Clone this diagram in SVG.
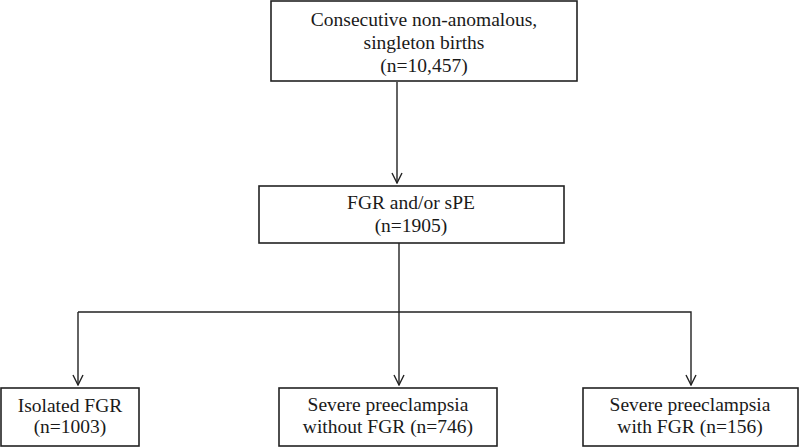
<svg xmlns="http://www.w3.org/2000/svg" width="800" height="447" viewBox="0 0 800 447">
<defs>
<style>
.box{fill:#fff;stroke:#222;stroke-width:1.6}
.t{font-family:'Liberation Serif','Times New Roman',Times,serif;font-size:19.5px;fill:#1a1a1a;text-anchor:middle}
.c{fill:none;stroke:#222;stroke-width:1.4}
</style>
<marker id="ah" viewBox="0 0 12 12" refX="11" refY="6" markerWidth="12" markerHeight="12" markerUnits="userSpaceOnUse" orient="auto">
<path d="M1,1 L11,6 L1,11" fill="none" stroke="#222" stroke-width="1.4"/>
</marker>
</defs>
<rect width="800" height="447" fill="#fff"/>
<g id="connectors">
<line class="c" x1="397" y1="82" x2="397" y2="183" marker-end="url(#ah)"/>
<line class="c" x1="399" y1="243" x2="399" y2="312"/>
<polyline class="c" points="78,312 691,312 691,385" marker-end="url(#ah)"/>
<line class="c" x1="78" y1="312" x2="78" y2="385" marker-end="url(#ah)"/>
<line class="c" x1="399" y1="312" x2="399" y2="385" marker-end="url(#ah)"/>
</g>
<g id="n1"><rect class="box" x="271" y="1" width="306" height="80"/>
<text class="t" x="424" y="26">Consecutive non-anomalous,</text>
<text class="t" x="424" y="49">singleton births</text>
<text class="t" x="424" y="72">(n=10,457)</text></g>
<g id="n2"><rect class="box" x="259" y="186" width="305" height="57"/>
<text class="t" x="411" y="209">FGR and/or sPE</text>
<text class="t" x="411" y="232">(n=1905)</text></g>
<g id="n3"><rect class="box" x="1" y="388" width="138" height="58"/>
<text class="t" x="70" y="412">Isolated FGR</text>
<text class="t" x="70" y="433">(n=1003)</text></g>
<g id="n4"><rect class="box" x="279" y="388" width="218" height="58"/>
<text class="t" x="388" y="411">Severe preeclampsia</text>
<text class="t" x="388" y="433">without FGR (n=746)</text></g>
<g id="n5"><rect class="box" x="583" y="388" width="215" height="58"/>
<text class="t" x="690" y="411">Severe preeclampsia</text>
<text class="t" x="690" y="433">with FGR (n=156)</text></g>
</svg>
